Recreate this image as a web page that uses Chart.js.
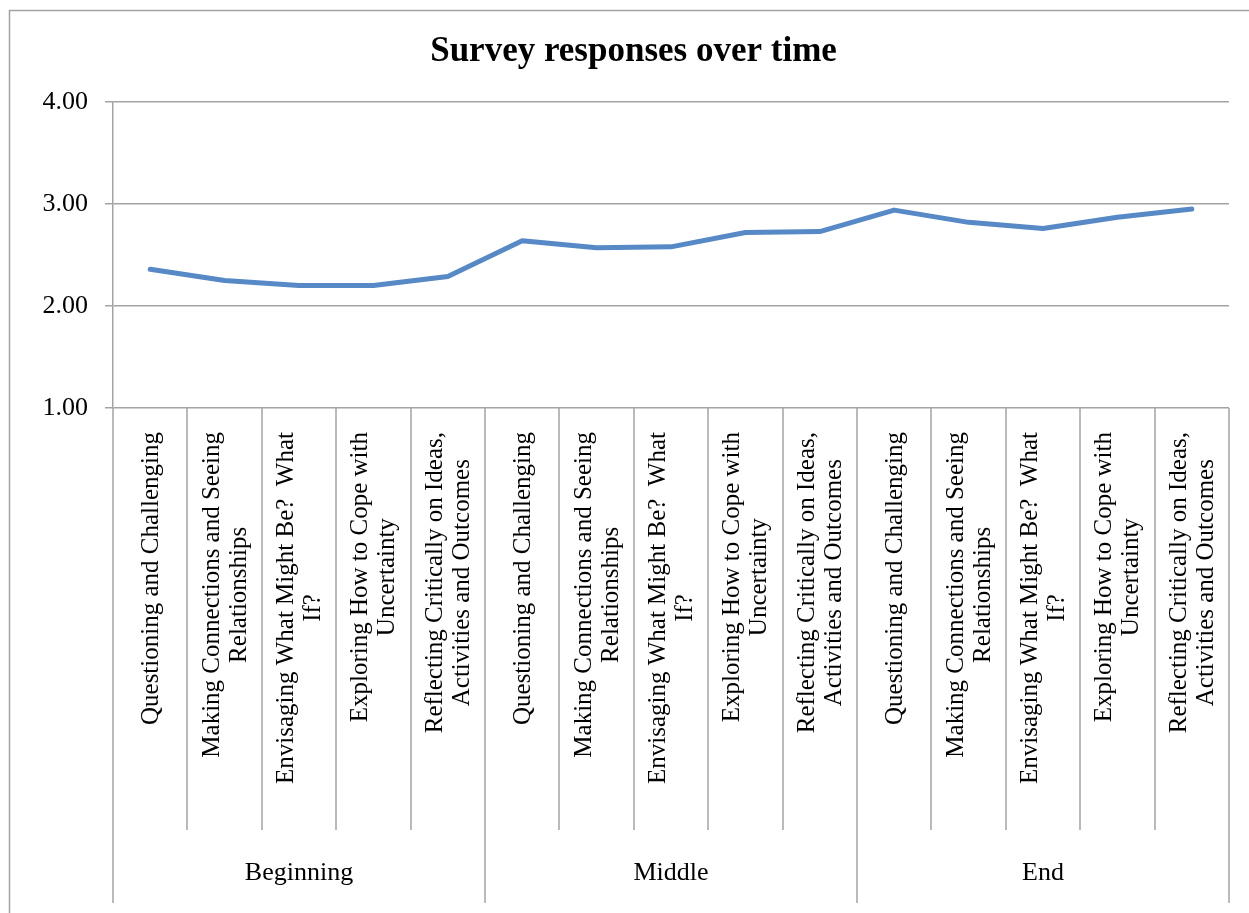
<!DOCTYPE html>
<html>
<head>
<meta charset="utf-8">
<script src="https://cdn.jsdelivr.net/npm/chart.js@4"></script>
<style>
    html, body { margin: 0; padding: 0; background: #fff; overflow: hidden; }
    #wrap { width: 1266px; height: 913px; }
</style>
</head>
<body>
<div id="wrap"><canvas id="surveyChart" width="1266" height="913"></canvas></div>
<script>
// Survey responses over time

const FONT = '"Liberation Serif", "Times New Roman", serif';

const groups = ['Beginning', 'Middle', 'End'];

// each skill label is split into the lines shown under the axis
const skills = [
    ['Questioning and Challenging'],
    ['Making Connections and Seeing', 'Relationships'],
    ['Envisaging What Might Be?  What', 'If?'],
    ['Exploring How to Cope with', 'Uncertainty'],
    ['Reflecting Critically on Ideas,', 'Activities and Outcomes']
];

const beginningValues = [2.36, 2.25, 2.20, 2.20, 2.29];
const middleValues = [2.64, 2.57, 2.58, 2.72, 2.73];
const endValues = [2.94, 2.82, 2.76, 2.87, 2.95];

const yTicks = [1, 2, 3, 4];

const labels = groups.flatMap(() => skills);
const values = [...beginningValues, ...middleValues, ...endValues];

const gridColor = '#a3a3a3';

// Draws the two-level category axis, the separators and the outer frame
const groupAxisPlugin = {
    id: 'groupAxis',
    afterDraw(chart) {
        const ctx = chart.ctx;
        const x = chart.scales.x;
        const area = chart.chartArea;
        const n = chart.data.labels.length;
        const step = x.getPixelForValue(1) - x.getPixelForValue(0);
        const perGroup = n / groups.length;

        ctx.save();
        ctx.strokeStyle = gridColor;
        ctx.lineWidth = 1.5;

        // separators between categories and groups
        for (let i = 0; i <= n; i++) {
            const px = Math.round(x.getPixelForValue(0) - step / 2 + i * step);
            const end = (i % perGroup === 0) ? 903 : 830;
            ctx.beginPath();
            ctx.moveTo(px, area.bottom);
            ctx.lineTo(px, end);
            ctx.stroke();
        }

        // outer frame (runs off the right and bottom of the picture)
        ctx.strokeRect(9.5, 10.5, 1248, 1000);

        // rotated skill labels
        ctx.fillStyle = '#000';
        ctx.font = '25px ' + FONT;
        ctx.textBaseline = 'middle';
        ctx.textAlign = 'center';
        const lineH = 27;
        chart.data.labels.forEach((lines, i) => {
            const cx = x.getPixelForValue(i);
            const maxW = Math.max(...lines.map(l => ctx.measureText(l).width));
            const top = area.bottom + 24;
            ctx.save();
            ctx.translate(cx, top + maxW / 2);
            ctx.rotate(-Math.PI / 2);
            lines.forEach((l, k) => {
                const off = (k - (lines.length - 1) / 2) * lineH;
                ctx.fillText(l, 0, off + 1);
            });
            ctx.restore();
        });

        // group labels
        ctx.font = '26px ' + FONT;
        groups.forEach((g, gi) => {
            const first = x.getPixelForValue(gi * perGroup);
            const last = x.getPixelForValue(gi * perGroup + perGroup - 1);
            ctx.fillText(g, (first + last) / 2, 873);
        });

        ctx.restore();
    }
};

const ctx = document.getElementById('surveyChart');

new Chart(ctx, {
    type: 'line',
    data: {
        labels: labels,
        datasets: [{
            label: 'Survey',
            data: values,
            borderColor: '#5689c5',
            borderWidth: 5,
            borderCapStyle: 'round',
            borderJoinStyle: 'round',
            pointRadius: 0,
            tension: 0,
            fill: false
        }]
    },
    options: {
        responsive: false,
        animation: false,
        layout: {
            padding: { top: 31, left: 38, right: 37, bottom: 0 }
        },
        plugins: {
            legend: { display: false },
            tooltip: { enabled: false },
            title: {
                display: true,
                text: 'Survey responses over time',
                color: '#000',
                font: { family: FONT, size: 35, weight: 'bold', lineHeight: 1.2 },
                padding: { top: 0, bottom: 29 }
            }
        },
        scales: {
            x: {
                type: 'category',
                offset: true,
                grid: { display: false },
                border: { display: false },
                ticks: { display: false },
                afterFit(scale) { scale.height = 913 - 408; }
            },
            y: {
                min: yTicks[0],
                max: yTicks[yTicks.length - 1],
                afterBuildTicks(scale) {
                    scale.ticks = yTicks.map(v => ({ value: v }));
                },
                afterFit(scale) { scale.width = 113 - 38; },
                ticks: {
                    color: '#000',
                    padding: 17,
                    font: { family: FONT, size: 26 },
                    callback: v => v.toFixed(2)
                },
                grid: {
                    color: gridColor,
                    lineWidth: 1.5,
                    tickLength: 8,
                    drawTicks: true
                },
                border: { display: true, color: gridColor, width: 1.5 }
            }
        }
    },
    plugins: [groupAxisPlugin]
});
</script>
</body>
</html>
